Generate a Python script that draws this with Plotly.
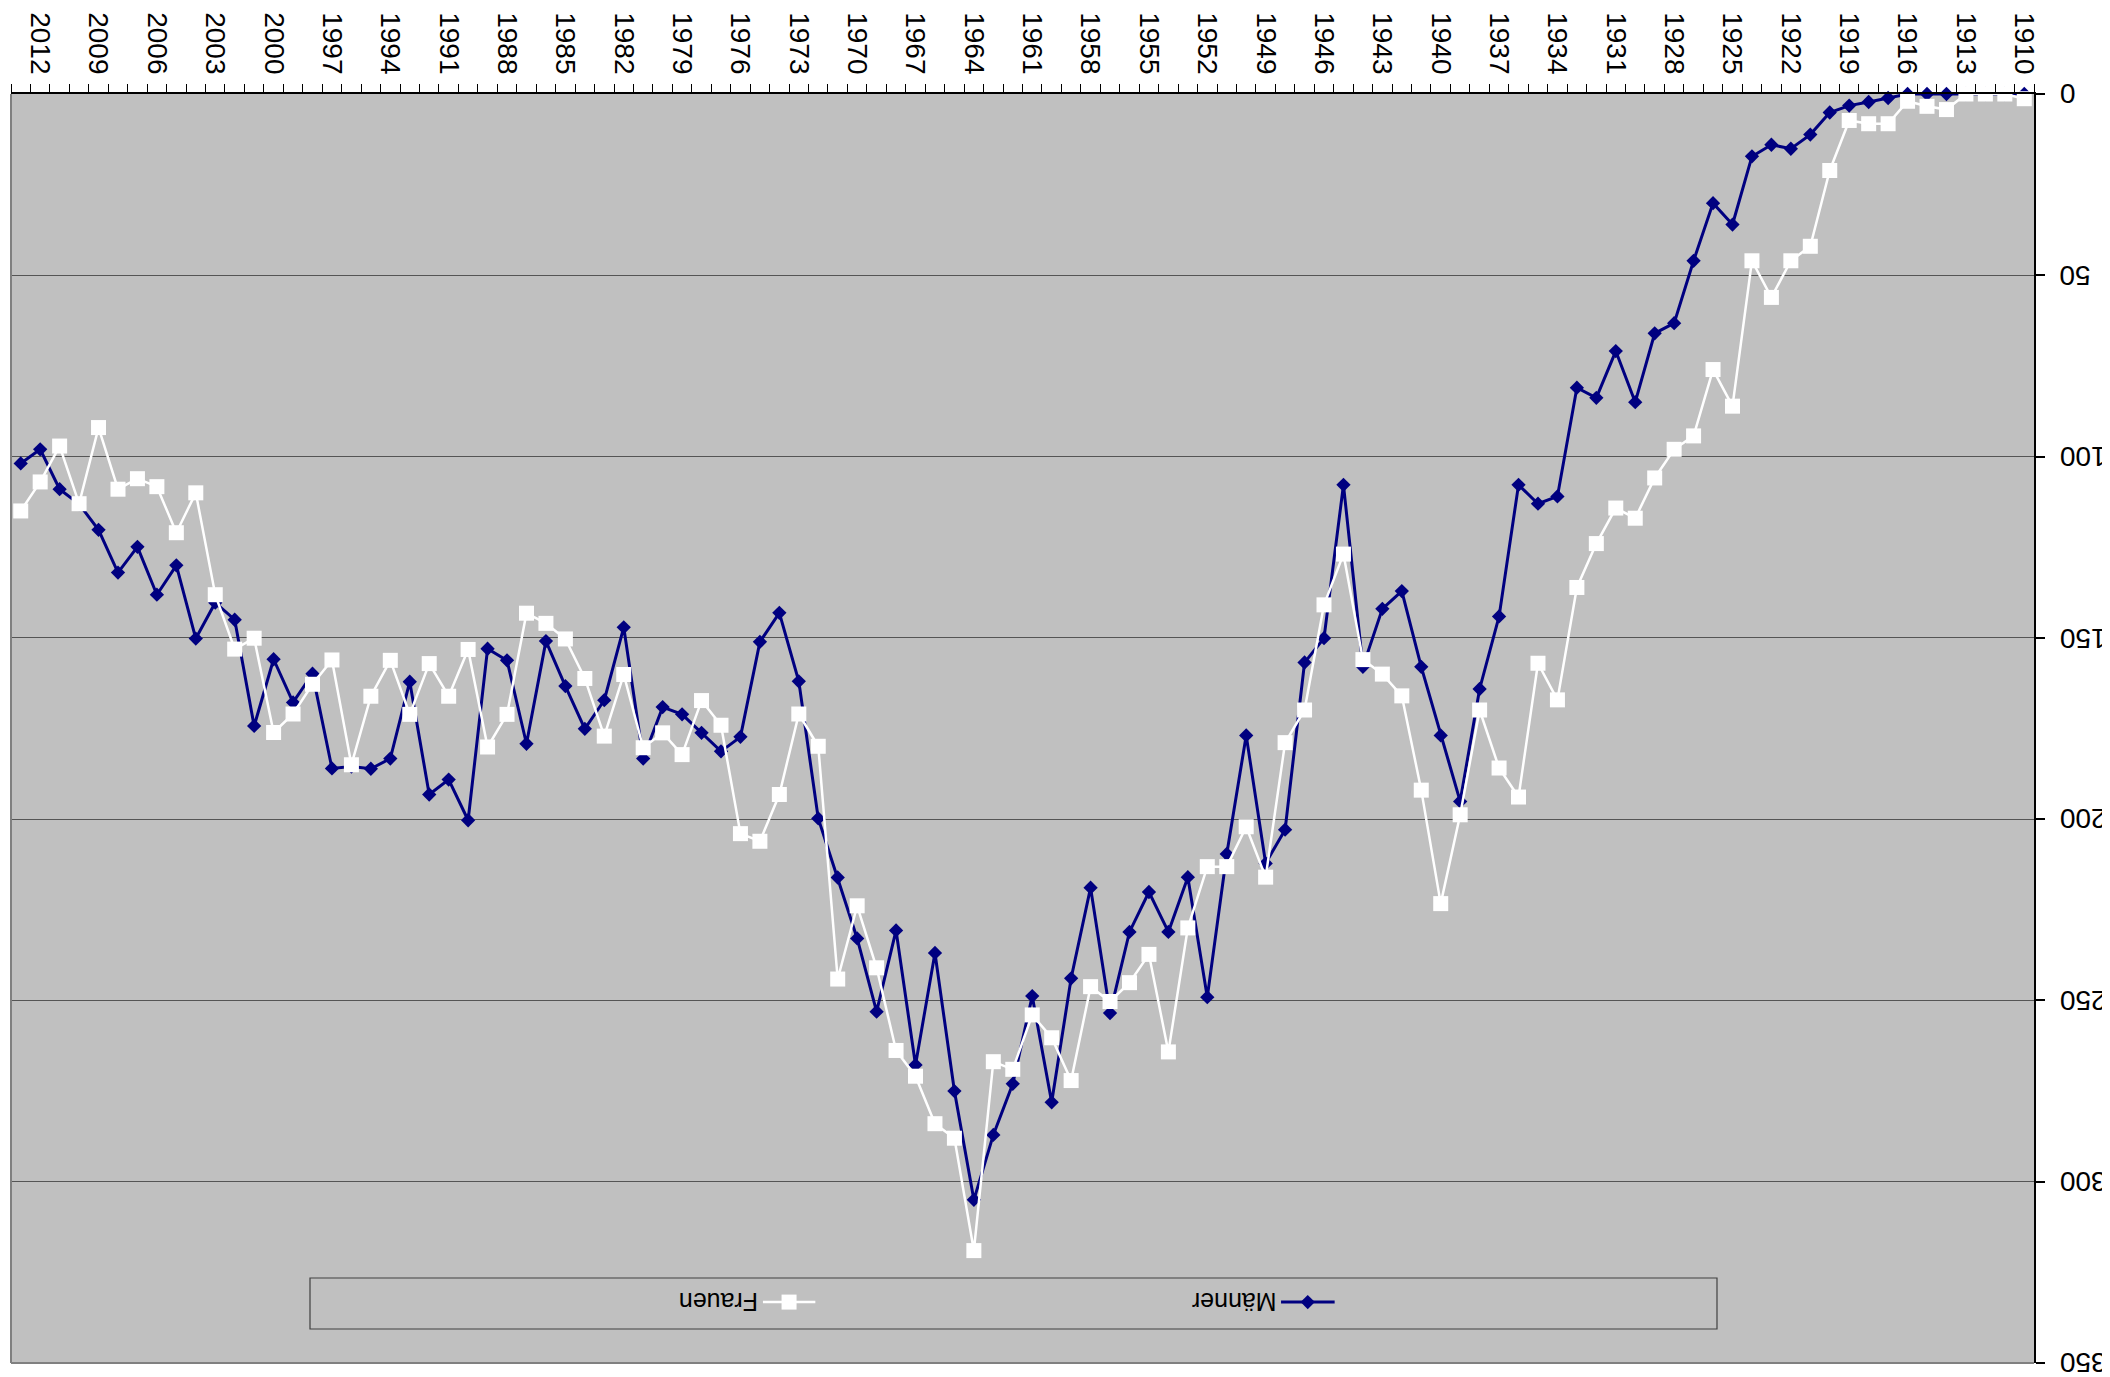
import plotly.graph_objects as go

# Years (categories) from left to right as drawn: 2013 ... 1910
years = list(range(2013, 1909, -1))

maenner = [
    101.9, 98.0, 109.0, 113.1, 120.2, 132.0, 124.9, 138.1, 130.0, 150.2,   # 2013-2004
    140.3, 145.0, 174.3, 155.9, 167.8, 159.9, 186.0, 185.5, 186.1, 183.3,  # 2003-1994
    162.1, 193.2, 189.1, 200.3, 153.0, 156.2, 179.2, 150.9, 163.3, 175.1,  # 1993-1984
    167.2, 147.1, 183.3, 169.1, 171.1, 176.2, 181.3, 177.3, 151.1, 143.1,  # 1983-1974
    162.0, 199.8, 216.1, 232.9, 253.1, 230.7, 267.8, 236.9, 275.0, 305.0,  # 1973-1964
    287.1, 273.0, 248.8, 278.1, 243.9, 218.9, 253.5, 231.1, 220.1, 231.1,  # 1963-1954
    216.0, 249.1, 209.6, 176.9, 212.2, 202.9, 156.8, 150.1, 107.8, 158.0,  # 1953-1944
    142.0, 137.1, 158.0, 176.9, 195.1, 164.1, 144.1, 107.8, 113.0, 111.0,  # 1943-1934
    81.0, 83.8, 70.9, 85.0, 66.0, 63.2, 46.0, 30.1, 36.0, 17.2,            # 1933-1924
    14.0, 15.1, 11.2, 5.1, 3.2, 2.2, 1.1, 0, 0, 0,                         # 1923-1914
    0, 0, 0, 0,                                                            # 1913-1910
]

frauen = [
    115.0, 107.0, 97.1, 113.0, 92.0, 109.0, 106.1, 108.3, 121.0, 110.0,   # 2013-2004
    138.1, 153.1, 150.1, 176.1, 171.0, 162.8, 156.1, 185.0, 166.1, 156.2,  # 2003-1994
    171.1, 157.1, 166.1, 153.2, 180.1, 171.1, 143.2, 146.0, 150.3, 161.2,  # 1993-1984
    177.1, 160.1, 180.3, 176.2, 182.2, 167.3, 174.1, 204.0, 206.1, 193.2,  # 1983-1974
    171.0, 179.9, 244.1, 223.9, 241.0, 263.8, 270.9, 284.0, 288.0, 319.0,  # 1973-1964
    266.9, 269.0, 254.0, 260.3, 272.1, 246.2, 250.3, 245.1, 237.3, 264.2,  # 1963-1954
    230.0, 213.1, 213.1, 202.1, 216.0, 178.9, 169.9, 140.9, 126.9, 156.0,  # 1953-1944
    160.0, 166.0, 192.0, 223.3, 198.8, 169.9, 185.9, 193.9, 157.0, 167.1,  # 1943-1934
    136.1, 124.0, 114.2, 117.0, 105.9, 98.0, 94.3, 76.0, 86.1, 46.0,       # 1933-1924
    56.1, 46.0, 42.0, 21.1, 7.3, 8.2, 8.2, 2.0, 3.4, 4.3,                  # 1923-1914
    0, 0, 0, 1.3,                                                          # 1913-1910
]

x_tick_years = list(range(2012, 1909, -3))
x_tick_labels = [str(y) for y in x_tick_years]
y_ticks = [0, 50, 100, 150, 200, 250, 300, 350]
y_tick_labels = [str(v) for v in y_ticks]

series_names = ["Männer", "Frauen"]

FONT = "Liberation Sans, Arial, sans-serif"
NAVY = "#000080"
PLOT_BG = "#C0C0C0"

fig = go.Figure()

fig.add_trace(go.Scatter(
    x=years, y=maenner, name=series_names[0], mode="lines+markers",
    line=dict(color=NAVY, width=3),
    marker=dict(symbol="diamond", size=11, color=NAVY, line=dict(width=0)),
    showlegend=False, cliponaxis=False,
))
fig.add_trace(go.Scatter(
    x=years, y=frauen, name=series_names[1], mode="lines+markers",
    line=dict(color="white", width=2.5),
    marker=dict(symbol="square", size=15, color="white", line=dict(width=0)),
    showlegend=False, cliponaxis=False,
))

# Legend swatches drawn on an invisible overlay axis (0..1 box)
leg_y = 0.048
fig.add_trace(go.Scatter(
    x=[0.6278, 0.6543], y=[leg_y, leg_y], xaxis="x2", yaxis="y2", mode="lines",
    line=dict(color=NAVY, width=3), showlegend=False, hoverinfo="skip"))
fig.add_trace(go.Scatter(
    x=[0.6410], y=[leg_y], xaxis="x2", yaxis="y2", mode="markers",
    marker=dict(symbol="diamond", size=11, color=NAVY), showlegend=False, hoverinfo="skip"))
fig.add_trace(go.Scatter(
    x=[0.3717, 0.3976], y=[leg_y, leg_y], xaxis="x2", yaxis="y2", mode="lines",
    line=dict(color="white", width=2.5), showlegend=False, hoverinfo="skip"))
fig.add_trace(go.Scatter(
    x=[0.3846], y=[leg_y], xaxis="x2", yaxis="y2", mode="markers",
    marker=dict(symbol="square", size=15, color="white"), showlegend=False, hoverinfo="skip"))

annotations = [
    dict(text=series_names[0], xref="paper", yref="paper", x=0.6047, y=leg_y,
         textangle=180, showarrow=False, xanchor="center", yanchor="middle",
         font=dict(family=FONT, size=25, color="black")),
    dict(text=series_names[1], xref="paper", yref="paper", x=0.3500, y=leg_y,
         textangle=180, showarrow=False, xanchor="center", yanchor="middle",
         font=dict(family=FONT, size=25, color="black")),
]
# Upside-down y tick labels placed on the y axis scale
for v, lab in zip(y_ticks, y_tick_labels):
    annotations.append(dict(
        text=lab, xref="paper", yref="y", x=1.0115, y=v, textangle=180,
        showarrow=False, xanchor="left", yanchor="middle",
        font=dict(family=FONT, size=28, color="black")))

fig.update_layout(
    width=2110, height=1377,
    margin=dict(l=3, r=84, t=86, b=22, pad=0, autoexpand=False),
    paper_bgcolor="white",
    plot_bgcolor=PLOT_BG,
    font=dict(family=FONT, size=28, color="black"),
    showlegend=False,
    xaxis=dict(
        type="linear", range=[2013.5, 1909.5], side="top", automargin=False,
        tickmode="array", tickvals=x_tick_years, ticktext=x_tick_labels,
        tickangle=90, ticks="", ticklabelstandoff=8,
        tickfont=dict(family=FONT, size=28, color="black"),
        showgrid=False, zeroline=False,
        showline=True, linecolor="black", linewidth=1.5,
        minor=dict(tickmode="linear", tick0=1909.5, dtick=1, ticks="outside",
                   ticklen=8, tickcolor="black", tickwidth=1, showgrid=False),
    ),
    yaxis=dict(
        range=[350, 0], side="right", automargin=False,
        tickmode="array", tickvals=y_ticks, showticklabels=False,
        ticks="outside", ticklen=9, tickcolor="black", tickwidth=1.5,
        showgrid=True, gridcolor="#555555", gridwidth=1.2,
        zeroline=False, showline=True, linecolor="black", linewidth=1.5,
    ),
    xaxis2=dict(overlaying="x", range=[0, 1], visible=False, fixedrange=True),
    yaxis2=dict(overlaying="y", range=[0, 1], visible=False, fixedrange=True),
    shapes=[
        dict(type="line", xref="paper", yref="paper", x0=0, x1=0, y0=0, y1=1,
             line=dict(color="#808080", width=2)),
        dict(type="line", xref="paper", yref="paper", x0=0, x1=1, y0=0, y1=0,
             line=dict(color="#808080", width=2)),
        dict(type="rect", xref="paper", yref="paper", x0=0.1478, x1=0.8433,
             y0=0.0268, y1=0.0670, line=dict(color="#404040", width=1.2),
             fillcolor="rgba(0,0,0,0)", layer="above"),
    ],
    annotations=annotations,
)

fig.write_html("out.html")
